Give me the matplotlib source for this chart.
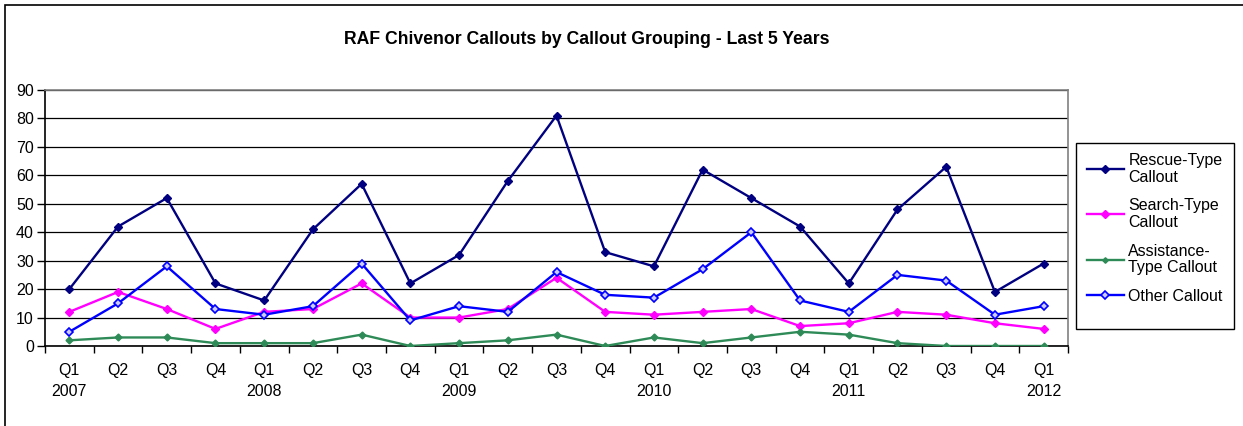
import matplotlib
matplotlib.use("Agg")
import matplotlib.pyplot as plt
from matplotlib.patches import Rectangle

plt.rcParams['font.family'] = ['Liberation Sans', 'DejaVu Sans']

quarters = ["Q1", "Q2", "Q3", "Q4"] * 5 + ["Q1"]
years = ["2007", "", "", "", "2008", "", "", "", "2009", "", "", "",
         "2010", "", "", "", "2011", "", "", "", "2012"]
tick_labels = [q + ("\n" + y if y else "") for q, y in zip(quarters, years)]

rescue = [20, 42, 52, 22, 16, 41, 57, 22, 32, 58, 81, 33, 28, 62, 52, 42, 22, 48, 63, 19, 29]
search = [12, 19, 13, 6, 12, 13, 22, 10, 10, 13, 24, 12, 11, 12, 13, 7, 8, 12, 11, 8, 6]
assistance = [2, 3, 3, 1, 1, 1, 4, 0, 1, 2, 4, 0, 3, 1, 3, 5, 4, 1, 0, 0, 0]
other = [5, 15, 28, 13, 11, 14, 29, 9, 14, 12, 26, 18, 17, 27, 40, 16, 12, 25, 23, 11, 14]

series_names = ["Rescue-Type\nCallout", "Search-Type\nCallout",
                "Assistance-\nType Callout", "Other Callout"]
title = "RAF Chivenor Callouts by Callout Grouping - Last 5 Years"

W, H = 1243, 426
fig = plt.figure(figsize=(W / 100, H / 100), dpi=100)

# outer chart border
fig.add_artist(Rectangle((5 / W, -0.05), 1.1, 1 - 5 / H + 0.05, transform=fig.transFigure,
                         fill=False, edgecolor="black", linewidth=1.2))

ax = fig.add_axes([45 / W, 1 - 346 / H, (1068 - 45) / W, (346 - 90) / H])
x = list(range(len(rescue)))

ax.plot(x, rescue, color="#000080", marker="D", markersize=4.5, linewidth=1.7,
        label=series_names[0], zorder=3)
ax.plot(x, search, color="#FF00FF", marker="D", markersize=4.5, linewidth=1.7,
        label=series_names[1], zorder=3)
ax.plot(x, assistance, color="#2E8B57", marker="D", markersize=3.5, linewidth=1.7,
        label=series_names[2], zorder=3)
ax.plot(x, other, color="#0000FF", marker="D", markersize=4.5, linewidth=1.7,
        markerfacecolor="#CCCCFF", markeredgecolor="#0000FF", markeredgewidth=1.2,
        label=series_names[3], zorder=4)

ax.set_xlim(-0.5, len(rescue) - 0.5)
ax.set_ylim(0, 90)
ax.set_yticks(range(0, 91, 10))
ax.yaxis.grid(True, color="black", linewidth=0.9)
ax.set_axisbelow(True)

ax.set_xticks([i - 0.5 for i in range(len(rescue) + 1)])
ax.set_xticklabels([])
ax.set_xticks(x, minor=True)
ax.set_xticklabels(tick_labels, minor=True, fontsize=11.5)
ax.tick_params(axis="x", which="minor", length=0, pad=12)
ax.tick_params(axis="x", which="major", length=5, direction="out", width=1)
ax.tick_params(axis="y", length=6, direction="out", width=1, labelsize=11.5, pad=2)
for lbl in ax.get_xticklabels(minor=True):
    lbl.set_linespacing(1.5)
    lbl.set_verticalalignment("top")

ax.spines["left"].set_color("black")
ax.spines["bottom"].set_color("black")
ax.spines["top"].set_color("#808080")
ax.spines["right"].set_color("#808080")
for s in ax.spines.values():
    s.set_linewidth(1.2)

fig.text(587 / W, 1 - 40 / H, title, ha="center", va="center",
         fontsize=12.7, fontweight="bold")

# legend box (Excel-style, larger than content)
fig.add_artist(Rectangle((1076 / W, 1 - 329 / H), (1234 - 1076) / W, (329 - 143) / H,
                         transform=fig.transFigure, fill=False, edgecolor="black",
                         linewidth=1.0))
leg = fig.legend(loc="upper left", bbox_to_anchor=(1074 / W, 1 - 140 / H),
                 frameon=False, fontsize=11.5,
                 handlelength=2.3, handletextpad=0.3, labelspacing=0.85,
                 borderpad=0.3, markerscale=0.8)
for t in leg.get_texts():
    t.set_linespacing(1.15)

fig.savefig("out.png", dpi=100)
